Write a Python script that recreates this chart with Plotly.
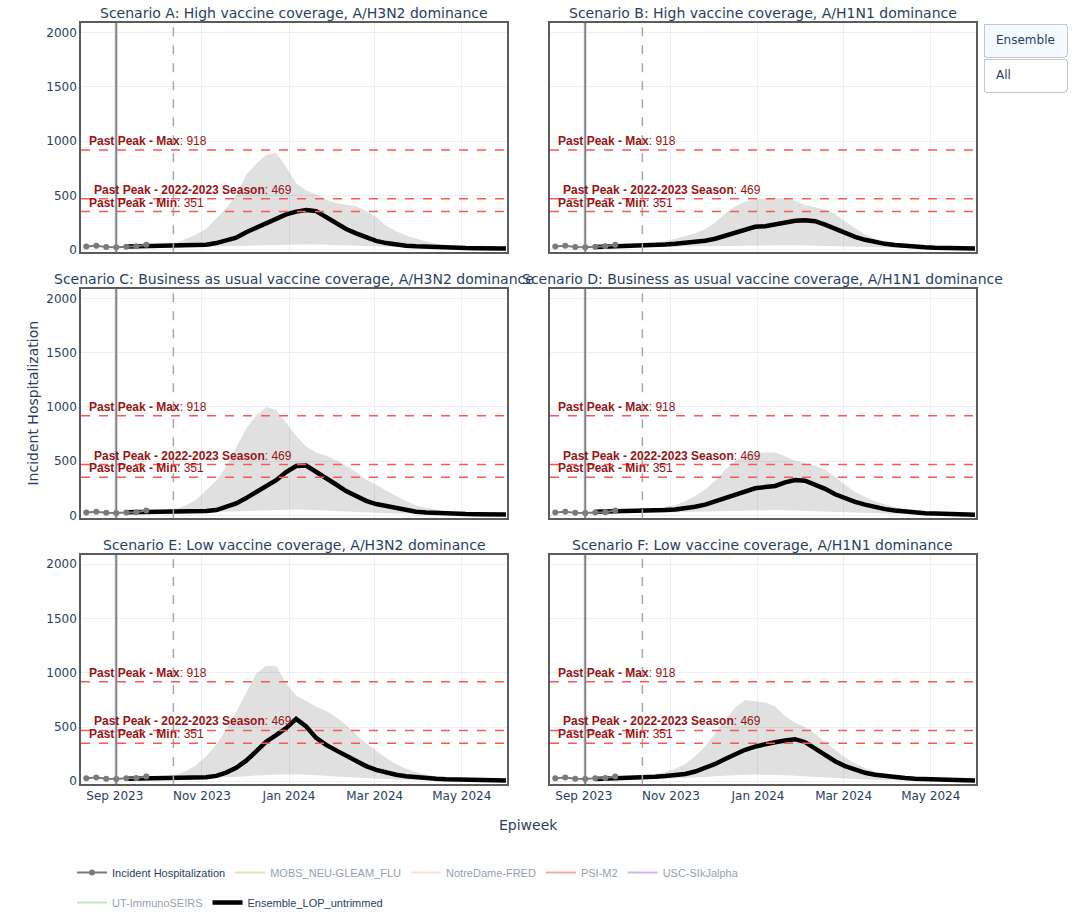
import pandas as pd
import plotly.graph_objects as go
from plotly.subplots import make_subplots

# ---- data -------------------------------------------------------------
obs_dates = pd.date_range("2023-08-12", periods=7, freq="7D")
obs_values = [28, 35, 24, 22, 27, 30, 45]

proj_dates = pd.date_range("2023-09-09", "2024-06-01", freq="7D")  # 39 epiweeks

scenario_titles = [
    "Scenario A: High vaccine coverage, A/H3N2 dominance",
    "Scenario B: High vaccine coverage, A/H1N1 dominance",
    "Scenario C: Business as usual vaccine coverage, A/H3N2 dominance",
    "Scenario D: Business as usual vaccine coverage, A/H1N1 dominance",
    "Scenario E: Low vaccine coverage, A/H3N2 dominance",
    "Scenario F: Low vaccine coverage, A/H1N1 dominance",
]

median_a = [28, 29, 30, 30, 31, 32, 33, 36, 45, 60, 80, 110, 160, 200, 245, 285, 325, 350, 365, 355,
            300, 240, 190, 150, 112, 80, 60, 45, 36, 30, 25, 21, 18, 16, 14, 13, 12, 11, 10]
lower_a = [22, 22, 22, 22, 22, 23, 24, 25, 27, 29, 31, 34, 37, 40, 43, 46, 48, 49, 48, 46,
           43, 40, 36, 32, 28, 24, 21, 18, 15, 13, 11, 10, 9, 8, 7, 6, 6, 5, 5]
upper_a = [35, 38, 42, 46, 52, 60, 100, 140, 190, 290, 380, 500, 690, 790, 875, 890, 760, 610, 545, 510,
           460, 430, 412, 400, 355, 300, 220, 170, 130, 100, 75, 55, 42, 32, 26, 22, 19, 17, 15]

median_b = [25, 27, 29, 31, 34, 38, 42, 47, 53, 60, 70, 82, 100, 125, 155, 185, 210, 215, 232, 250,
            265, 270, 262, 230, 190, 155, 118, 90, 68, 53, 42, 33, 26, 21, 17, 14, 12, 10, 9]
lower_b = [20, 20, 20, 21, 21, 22, 23, 24, 26, 28, 30, 32, 34, 36, 38, 40, 41, 42, 42, 41,
           39, 37, 34, 31, 28, 25, 22, 19, 16, 14, 12, 10, 9, 8, 7, 6, 6, 5, 5]
upper_b = [30, 33, 36, 40, 45, 52, 62, 78, 100, 125, 150, 190, 250, 330, 400, 440, 465, 472, 475, 470,
           450, 410, 390, 370, 330, 260, 200, 140, 100, 72, 55, 42, 33, 27, 22, 19, 17, 15, 14]

median_c = [29, 30, 31, 31, 32, 33, 35, 38, 42, 50, 75, 110, 160, 215, 270, 325, 400, 455, 460, 405,
            350, 285, 225, 180, 135, 105, 85, 65, 45, 35, 28, 22, 18, 15, 13, 12, 11, 10, 9]
lower_c = [22, 22, 22, 22, 23, 23, 24, 26, 28, 31, 34, 38, 42, 46, 50, 53, 55, 55, 53, 50,
           46, 42, 38, 33, 29, 25, 21, 18, 15, 13, 11, 10, 9, 8, 7, 6, 6, 5, 5]
upper_c = [35, 38, 42, 46, 52, 62, 95, 145, 230, 320, 450, 620, 800, 920, 1000, 975, 850, 735, 635, 580,
           552, 510, 455, 400, 330, 285, 230, 180, 130, 95, 70, 55, 40, 30, 24, 20, 18, 16, 15]

median_d = [35, 36, 38, 40, 42, 44, 47, 50, 55, 65, 80, 100, 130, 160, 195, 228, 250, 262, 272, 305,
            327, 320, 285, 245, 195, 158, 125, 100, 75, 58, 45, 35, 27, 21, 17, 14, 11, 9, 7]
lower_d = [22, 22, 22, 23, 23, 24, 25, 27, 29, 31, 34, 37, 40, 43, 46, 48, 50, 50, 49, 47,
           44, 41, 37, 33, 29, 25, 21, 18, 15, 13, 11, 10, 9, 8, 7, 6, 6, 5, 5]
upper_d = [40, 42, 45, 48, 52, 57, 65, 78, 95, 130, 180, 240, 320, 420, 500, 555, 575, 580, 580, 545,
           505, 480, 458, 420, 350, 280, 215, 170, 130, 100, 75, 55, 42, 33, 27, 22, 19, 16, 14]

median_e = [23, 24, 25, 26, 27, 28, 29, 32, 38, 50, 80, 125, 190, 275, 365, 425, 490, 575, 505, 400,
            335, 285, 235, 185, 140, 105, 78, 60, 47, 37, 30, 24, 19, 16, 13, 11, 10, 9, 8]
lower_e = [18, 18, 18, 18, 19, 19, 20, 22, 25, 29, 34, 40, 47, 54, 60, 64, 66, 65, 62, 57,
           51, 45, 39, 33, 28, 23, 19, 16, 13, 11, 10, 9, 8, 7, 6, 6, 5, 5, 5]
upper_e = [30, 33, 37, 42, 48, 58, 95, 150, 230, 340, 480, 640, 820, 990, 1065, 1060, 900, 790, 740, 690,
           650, 590, 520, 430, 350, 280, 215, 160, 115, 85, 62, 47, 36, 29, 24, 21, 18, 16, 15]

median_f = [20, 22, 25, 28, 32, 37, 42, 48, 55, 68, 90, 120, 160, 205, 250, 290, 320, 345, 360, 375,
            388, 360, 300, 240, 185, 140, 105, 78, 60, 47, 38, 30, 24, 19, 15, 12, 10, 9, 8]
lower_f = [16, 16, 17, 17, 18, 19, 21, 23, 26, 30, 35, 40, 46, 52, 57, 60, 62, 62, 60, 56,
           51, 45, 39, 33, 28, 23, 19, 16, 13, 11, 10, 9, 8, 7, 6, 6, 5, 5, 5]
upper_f = [28, 31, 35, 40, 46, 55, 68, 88, 115, 160, 230, 320, 440, 560, 680, 750, 740, 725, 690, 600,
           540, 500, 440, 360, 290, 220, 165, 120, 90, 68, 52, 40, 32, 26, 22, 19, 16, 15, 14]

past_peaks = [("Past Peak - Max", 918), ("Past Peak - 2022-2023 Season", 469), ("Past Peak - Min", 351)]

models = ["MOBS_NEU-GLEAM_FLU", "NotreDame-FRED", "PSI-M2", "USC-SIkJalpha", "UT-ImmunoSEIRS"]
model_colors = ["#b5d06a", "#f2c4b0", "#ea5a3f", "#a070dc", "#7ed47e"]

projection_start = "2023-09-02"
current_week = "2023-10-12"

panels = [
    (1, 1, median_a, lower_a, upper_a),
    (1, 2, median_b, lower_b, upper_b),
    (2, 1, median_c, lower_c, upper_c),
    (2, 2, median_d, lower_d, upper_d),
    (3, 1, median_e, lower_e, upper_e),
    (3, 2, median_f, lower_f, upper_f),
]

# ---- figure -----------------------------------------------------------
fig = make_subplots(rows=3, cols=2, subplot_titles=scenario_titles,
                    horizontal_spacing=0.048, vertical_spacing=0.048)
fig.update_annotations(font=dict(family="DejaVu Sans, Verdana, sans-serif", size=14, color="#2a3f5f"))

model_trace_idx = []
for k, (r, c, med, lo, hi) in enumerate(panels):
    first = k == 0
    fig.add_trace(go.Scatter(x=proj_dates, y=lo, mode="lines", line=dict(width=0, color="rgba(0,0,0,0)"),
                             showlegend=False, hoverinfo="skip"), row=r, col=c)
    fig.add_trace(go.Scatter(x=proj_dates, y=hi, mode="lines", line=dict(width=0, color="rgba(0,0,0,0)"),
                             fill="tonexty", fillcolor="rgba(0,0,0,0.12)",
                             showlegend=False, hoverinfo="skip"), row=r, col=c)
    if first:
        # individual model projections, hidden until the "All" button is used
        for j, (name, col) in enumerate(zip(models, model_colors)):
            fig.add_trace(go.Scatter(x=[proj_dates[0]], y=[None], mode="lines", name=name, legendgroup=name,
                                     legendrank=2 + j, line=dict(color=col, width=2), visible="legendonly",
                                     legend="legend2" if name == "UT-ImmunoSEIRS" else "legend"),
                          row=r, col=c)
            model_trace_idx.append(len(fig.data) - 1)
    fig.add_trace(go.Scatter(x=proj_dates, y=med, mode="lines", name="Ensemble_LOP_untrimmed",
                             legendgroup="ens", legendrank=10, showlegend=first, legend="legend2",
                             line=dict(color="black", width=4.5)), row=r, col=c)
    fig.add_trace(go.Scatter(x=obs_dates, y=obs_values, mode="lines+markers", name="Incident Hospitalization",
                             legendgroup="obs", legendrank=1, showlegend=first, legend="legend",
                             line=dict(color="#7a7a7a", width=2), marker=dict(color="#7a7a7a", size=6)),
                  row=r, col=c)

    xa = "x" if k == 0 else f"x{k + 1}"
    ya = "y" if k == 0 else f"y{k + 1}"
    fig.add_shape(type="line", xref=xa, yref=f"{ya} domain", x0=projection_start, x1=projection_start,
                  y0=0, y1=1, line=dict(color="#808080", width=2))
    fig.add_shape(type="line", xref=xa, yref=f"{ya} domain", x0=current_week, x1=current_week,
                  y0=0, y1=1, line=dict(color="#a8a8a8", width=1.5, dash="dash"))
    for label, val in past_peaks:
        fig.add_shape(type="line", xref=f"{xa} domain", yref=ya, x0=0, x1=1, y0=val, y1=val,
                      line=dict(color="#ff5555", width=1.5, dash="dash"))
        shift = 14 if "Season" in label else 9
        fig.add_annotation(xref=f"{xa} domain", yref=ya, x=0, y=val, xanchor="left", yanchor="bottom",
                           xshift=shift - 3, showarrow=False,
                           text=f"<b>{label}</b>: {val}",
                           font=dict(family="Liberation Sans, Arial, sans-serif", size=12, color="#9b1414"))

axis_line = dict(showline=True, mirror=True, linecolor="#5c5c5c", linewidth=1.5,
                 gridcolor="#EBF0F8", zeroline=False, automargin=False)
fig.update_xaxes(type="date", range=["2023-08-08 07:00", "2024-06-01 17:00"], dtick="M2",
                 tick0="2023-09-01", tickformat="%b %Y", **axis_line)
fig.update_xaxes(showticklabels=False, row=1)
fig.update_xaxes(showticklabels=False, row=2)
fig.update_xaxes(tickfont=dict(size=12), row=3)
fig.update_yaxes(range=[-25, 2088], dtick=500, tickfont=dict(size=12), **axis_line)
fig.update_yaxes(showticklabels=False, col=2)

fig.add_annotation(xref="paper", yref="paper", x=0.5, y=-0.0539, text="Epiweek", showarrow=False,
                   xanchor="center", yanchor="middle", font=dict(size=14, color="#2a3f5f"))
fig.add_annotation(xref="paper", yref="paper", x=-0.0547, y=0.5, text="Incident Hospitalization",
                   showarrow=False, textangle=-90, xanchor="center", yanchor="middle",
                   font=dict(size=14, color="#2a3f5f"))

n = len(fig.data)
vis_ens = [("legendonly" if i in model_trace_idx else True) for i in range(n)]
vis_all = [True] * n

legend_font = dict(family="Liberation Sans Narrow, Arial Narrow, Liberation Sans, sans-serif",
                   size=11, color="#2a3f5f")
fig.update_layout(
    width=1077, height=912,
    template="plotly_white",
    margin=dict(l=81, r=101, t=23, b=128, autoexpand=False),
    font=dict(family="DejaVu Sans, Verdana, sans-serif", size=12, color="#2a3f5f"),
    plot_bgcolor="white", paper_bgcolor="white",
    legend=dict(orientation="h", xref="container", yref="container", x=0.0669, y=0.0592,
                xanchor="left", yanchor="top", font=legend_font, bgcolor="rgba(0,0,0,0)"),
    legend2=dict(orientation="h", xref="container", yref="container", x=0.0669, y=0.0263,
                 xanchor="left", yanchor="top", font=legend_font, bgcolor="rgba(0,0,0,0)"),
    updatemenus=[dict(type="buttons", direction="down", x=1.008, y=1.0, xanchor="left", yanchor="top",
                      pad=dict(t=0, r=0, b=0, l=0), active=0, showactive=True,
                      font=dict(size=12),
                      buttons=[dict(label="Ensemble", method="restyle", args=[{"visible": vis_ens}]),
                               dict(label="All", method="restyle", args=[{"visible": vis_all}])])],
)

fig.write_html("out.html")
